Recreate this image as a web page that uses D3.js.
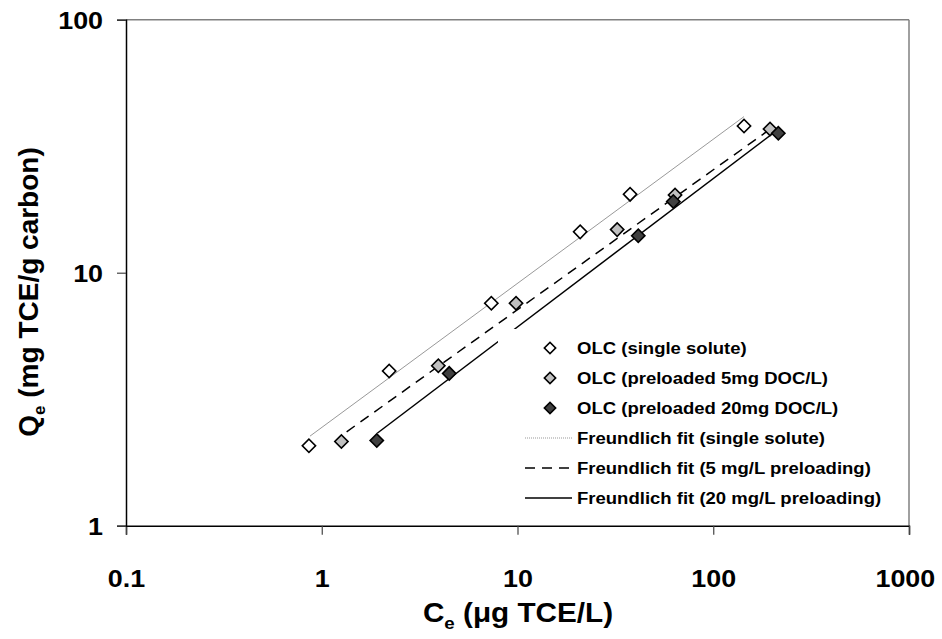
<!DOCTYPE html>
<html><head><meta charset="utf-8">
<script src="https://cdn.jsdelivr.net/npm/d3@7/dist/d3.min.js"></script>
<style>
html,body{margin:0;padding:0;background:#fff;}
text{font-family:"Liberation Sans",Arial,sans-serif;font-weight:bold;fill:#000;}
</style></head>
<body><svg id="chart" width="942" height="639"></svg>
<script>
// Data
const singleC = [0.86, 2.21, 7.35, 20.9, 37.6, 143.6];
const singleQ = [2.07, 4.09, 7.57, 14.5, 20.4, 38.0];
const pre5C = [1.26, 3.94, 9.83, 32.3, 63.8, 195];
const pre5Q = [2.15, 4.29, 7.57, 14.8, 20.3, 37.0];
const pre20C = [1.91, 4.48, 41.4, 62.5, 215];
const pre20Q = [2.17, 4.00, 14.0, 19.1, 35.6];
// Freundlich fit lines: [start, end] as [C, Q]
const fitSingle = [[0.871, 2.26], [143.6, 41.4]];
const fit5 = [[1.34, 2.35], [195, 36.9]];
const fit20 = [[1.92, 2.32], [209, 36.3]];
const xTicks = [0.1, 1, 10, 100, 1000];
const xTickLabels = ["0.1", "1", "10", "100", "1000"];
const yTicks = [1, 10, 100];
const yTickLabels = ["1", "10", "100"];
const legendLabels = ["OLC (single solute)", "OLC (preloaded 5mg DOC/L)", "OLC (preloaded 20mg DOC/L)",
  "Freundlich fit (single solute)", "Freundlich fit (5 mg/L preloading)", "Freundlich fit (20 mg/L preloading)"];

const svg = d3.select("#chart");
const L = 126, R = 909, T = 19.7, B = 525.7;
const x = d3.scaleLog().domain([0.1, 1000]).range([L, R]);
const y = d3.scaleLog().domain([1, 100]).range([B, T]);

// plot border (top/right grey)
svg.append("line").attr("x1", L).attr("x2", R).attr("y1", T).attr("y2", T).attr("stroke", "#808080").attr("stroke-width", 1.5);
svg.append("line").attr("x1", R).attr("x2", R).attr("y1", T).attr("y2", B).attr("stroke", "#808080").attr("stroke-width", 1.5);

// fit lines
const line = d3.line().x(d => x(d[0])).y(d => y(d[1]));
svg.append("path").datum(fitSingle).attr("d", line).attr("fill", "none").attr("stroke", "#999").attr("stroke-width", 1);
svg.append("path").datum(fit5).attr("d", line).attr("fill", "none").attr("stroke", "#000").attr("stroke-width", 1.5).attr("stroke-dasharray", "10,7");
svg.append("path").datum(fit20).attr("d", line).attr("fill", "none").attr("stroke", "#000").attr("stroke-width", 1.5);

// markers
function drawPts(cs, qs, fill) {
  svg.append("g").selectAll("path").data(cs.map((c, i) => [c, qs[i]])).join("path")
    .attr("d", d3.symbol().type(d3.symbolSquare).size(88))
    .attr("transform", d => `translate(${x(d[0])},${y(d[1])}) rotate(45)`)
    .attr("fill", fill).attr("stroke", "#000").attr("stroke-width", 1.6);
}
drawPts(singleC, singleQ, "#fff");
drawPts(pre5C, pre5Q, "#c0c0c0");
drawPts(pre20C, pre20Q, "#404040");

// legend (white background box, no border)
const lg = svg.append("g");
lg.append("rect").attr("x", 498).attr("y", 329).attr("width", 400).attr("height", 186).attr("fill", "#fff");
const ly0 = 348, ldy = 30;
const fills = ["#fff", "#c0c0c0", "#404040"];
fills.forEach((f, i) => {
  lg.append("path").attr("d", d3.symbol().type(d3.symbolSquare).size(64)())
    .attr("transform", `translate(550,${ly0 + i * ldy}) rotate(45)`)
    .attr("fill", f).attr("stroke", "#000").attr("stroke-width", 1.6);
});
const lstyles = [{s: "#999", w: 1, d: "1,1"}, {s: "#000", w: 1.5, d: "10,7"}, {s: "#000", w: 1.5, d: null}];
lstyles.forEach((st, i) => {
  const yy = ly0 + (i + 3) * ldy;
  const l = lg.append("line").attr("x1", 525).attr("x2", 572).attr("y1", yy).attr("y2", yy)
    .attr("stroke", st.s).attr("stroke-width", st.w);
  if (st.d) l.attr("stroke-dasharray", st.d);
});
const lt = lg.append("g").attr("transform", "translate(577,0) scale(1.09,1)");
legendLabels.forEach((t, i) => {
  lt.append("text").attr("x", 0).attr("y", ly0 + i * ldy).attr("dy", "0.36em")
    .style("font-size", "17px").text(t);
});

// axes
const xAxis = d3.axisBottom(x).tickValues(xTicks).tickSize(9).tickFormat((d, i) => xTickLabels[i]);
const gx = svg.append("g").attr("transform", `translate(0,${B})`).call(xAxis);
gx.select(".domain").attr("stroke", "#000").attr("stroke-width", 1.5);
gx.selectAll(".tick line").attr("stroke", "#444").attr("stroke-width", 1.2);
gx.selectAll(".tick text").attr("dy", 0).attr("y", 61).attr("fill", "#000")
  .style("font-size", "24px").style("font-family", "Liberation Sans, Arial, sans-serif").style("font-weight", "bold")
  .attr("transform", "scale(1.12,1)");
gx.selectAll(".tick text").filter(d => d === 1000).attr("text-anchor", "end").attr("x", 23);

const yAxis = d3.axisLeft(y).tickValues(yTicks).tickSize(9).tickFormat((d, i) => yTickLabels[i]);
const gy = svg.append("g").attr("transform", `translate(${L},0)`).call(yAxis);
gy.select(".domain").attr("stroke", "#000").attr("stroke-width", 1.5);
gy.selectAll(".tick line").attr("stroke", "#444").attr("stroke-width", 1.2);
gy.selectAll(".tick text").attr("x", -20.5).attr("dy", "0.36em").attr("fill", "#000")
  .style("font-size", "24px").style("font-family", "Liberation Sans, Arial, sans-serif").style("font-weight", "bold")
  .attr("transform", "scale(1.12,1)");

// axis titles
const xt = svg.append("text").attr("transform", "translate(518,622) scale(1.1,1)").attr("text-anchor", "middle").style("font-size", "27px");
xt.append("tspan").text("C");
xt.append("tspan").attr("dy", 7).style("font-size", "17px").text("e");
xt.append("tspan").attr("dy", -7).text(" (μg TCE/L)");

const yt = svg.append("text").attr("transform", "translate(38,292) rotate(-90)").attr("text-anchor", "middle").style("font-size", "28px");
yt.append("tspan").text("Q");
yt.append("tspan").attr("dy", 7).style("font-size", "17px").text("e");
yt.append("tspan").attr("dy", -7).text(" (mg TCE/g carbon)");
</script></body></html>
